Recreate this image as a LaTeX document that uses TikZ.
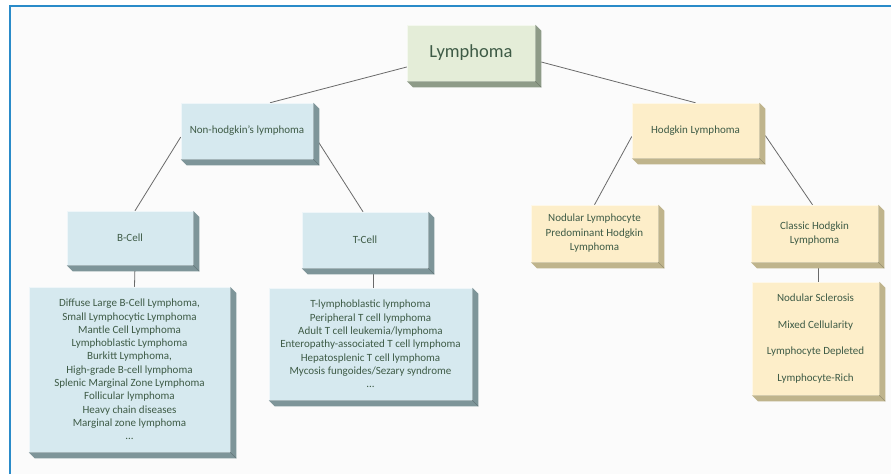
\documentclass[tikz,border=0pt]{standalone}
\usepackage{fontspec}
\setmainfont{Carlito}
\usetikzlibrary{backgrounds,calc}
\definecolor{frameblue}{HTML}{2A8BC9}
\definecolor{panel}{HTML}{FBFBFB}
\definecolor{txt}{HTML}{3E5B46}
\definecolor{gfront}{HTML}{E4EDD8}
\definecolor{gside}{HTML}{8E9B88}
\definecolor{bfront}{HTML}{D6E9EF}
\definecolor{bside}{HTML}{7E9599}
\definecolor{yfront}{HTML}{FDEEC9}
\definecolor{yside}{HTML}{BFB48C}
\definecolor{conn}{HTML}{6A6A6A}
\newcommand\extrudebox[2]{%
  \fill[#2] (#1.north east) -- ($(#1.north east)+(6,6)$) -- ($(#1.south east)+(6,6)$) -- ($(#1.south west)+(6,6)$) -- (#1.south west) -- (#1.south east) -- cycle;
  \draw[#2!80!black,line width=0.4pt] (#1.south east) -- ++(6,6);}
\tikzset{
  boxbase/.style={rectangle, inner sep=0pt, align=center, text=txt,
    font=\fontsize{11}{13.3}\selectfont, draw=white!60!#1, line width=0.5pt},
  gbox/.style={boxbase=gfront, fill=gfront},
  bbox/.style={boxbase=bfront, fill=bfront},
  ybox/.style={boxbase=yfront, fill=yfront},
  link/.style={draw=conn, line width=0.8pt},
}
\begin{document}
\begin{tikzpicture}[x=1pt,y=-1pt]
\useasboundingbox (0,0) rectangle (891,474);
% nodes
\node[gbox, minimum width=128pt, minimum height=56pt, font=\fontsize{18.5}{22}\selectfont] (lym) at (471,53) {Lymphoma};
\node[bbox, minimum width=132pt, minimum height=56pt] (nhl) at (247,131) {Non-hodgkin's lymphoma};
\node[bbox, minimum width=126pt, minimum height=54pt] (bcell) at (130,238) {B-Cell};
\node[bbox, minimum width=201pt, minimum height=165pt] (blist) at (129.5,369.5) {Diffuse Large B-Cell Lymphoma,\\Small Lymphocytic Lymphoma\\Mantle Cell Lymphoma\\Lymphoblastic Lymphoma\\Burkitt Lymphoma,\\High-grade B-cell lymphoma\\Splenic Marginal Zone Lymphoma\\Follicular lymphoma\\Heavy chain diseases\\Marginal zone lymphoma\\...};
\node[bbox, minimum width=126pt, minimum height=56pt] (tcell) at (365,240) {T-Cell};
\node[bbox, minimum width=203pt, minimum height=112pt] (tlist) at (370.5,344) {T-lymphoblastic lymphoma\\Peripheral T cell lymphoma\\Adult T cell leukemia/lymphoma\\Enteropathy-associated T cell lymphoma\\Hepatosplenic T cell lymphoma\\Mycosis fungoides/Sezary syndrome\\...};
\node[ybox, minimum width=127pt, minimum height=55pt] (hod) at (695.5,130.5) {Hodgkin Lymphoma};
\node[ybox, minimum width=127pt, minimum height=57pt, font=\fontsize{11}{14.5}\selectfont] (nlphl) at (594.5,233.5) {Nodular Lymphocyte\\Predominant Hodgkin\\Lymphoma};
\node[ybox, minimum width=127pt, minimum height=57pt, font=\fontsize{11}{13.5}\selectfont] (classic) at (814.5,233.5) {Classic Hodgkin\\Lymphoma};
\node[ybox, minimum width=127pt, minimum height=113pt, font=\fontsize{11}{26.5}\selectfont] (hllist) at (815.5,338.5) {Nodular Sclerosis\\Mixed Cellularity\\Lymphocyte Depleted\\Lymphocyte-Rich};
% extrusions
\extrudebox{lym}{gside}
\extrudebox{nhl}{bside}
\extrudebox{bcell}{bside}
\extrudebox{blist}{bside}
\extrudebox{tcell}{bside}
\extrudebox{tlist}{bside}
\extrudebox{hod}{yside}
\extrudebox{nlphl}{yside}
\extrudebox{classic}{yside}
\extrudebox{hllist}{yside}
\begin{scope}[on background layer]
\fill[panel] (10,6) rectangle (891,474);
\draw[frameblue, line width=2pt] (10,474) -- (10,6) -- (891,6);
\draw[link] ([shift={(0,14)}]lym.west) -- ([shift={(23,0)}]nhl.north);
\draw[link] ([shift={(6,9)}]lym.east) -- (hod.north);
\draw[link] ([shift={(0,6)}]nhl.west) -- ([shift={(5,0)}]bcell.north);
\draw[link] ([shift={(2,6)}]nhl.east) -- ([shift={(-2,0)}]tcell.north);
\draw[link] ([shift={(5,0)}]bcell.south) -- ([shift={(5,0)}]blist.north);
\draw[link] ([shift={(8,0)}]tcell.south) -- ([shift={(2.5,0)}]tlist.north);
\draw[link] ([shift={(0,6)}]hod.west) -- (nlphl.north);
\draw[link] ([shift={(6,5)}]hod.east) -- ([shift={(-2,0)}]classic.north);
\draw[link] ([shift={(3.5,0)}]classic.south) -- ([shift={(2.5,0)}]hllist.north);
\end{scope}
\end{tikzpicture}
\end{document}
